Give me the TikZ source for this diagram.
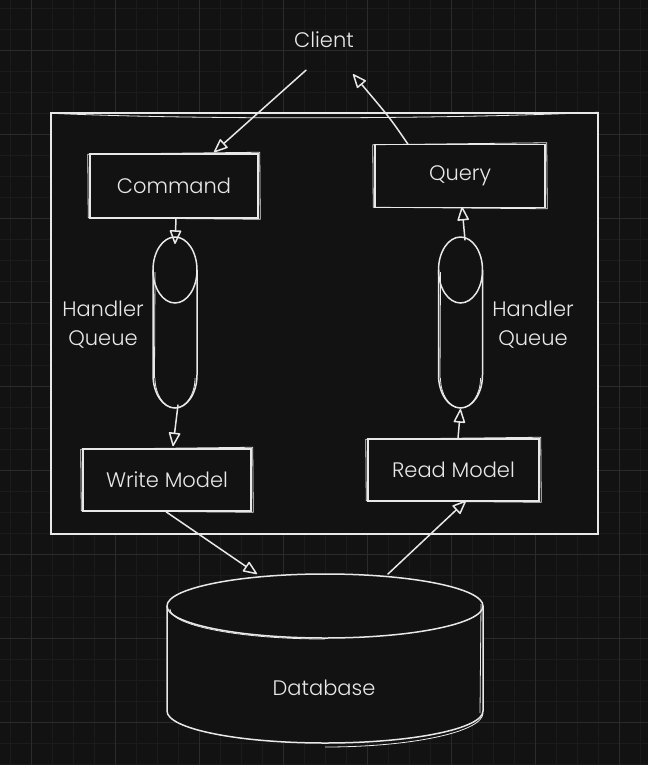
\documentclass[tikz,border=0pt]{standalone}
\usepackage{fontspec}
\setmainfont{Poppins}[UprightFont=* Light]
\usetikzlibrary{arrows.meta,calc}
\definecolor{bg}{HTML}{121212}
\definecolor{gridminor}{HTML}{1B1B1B}
\definecolor{gridmajor}{HTML}{2B2B2B}
\definecolor{ink}{HTML}{E8E8E8}
\newcommand\skbox[1]{%
  \draw[skline] ($(#1.north west)+(-1.5,1)$) -- ($(#1.north east)+(1,-1)$)
    -- ($(#1.south east)+(1.5,0.5)$) -- ($(#1.south west)+(-1,-1)$) -- cycle;}
\begin{document}
\begin{tikzpicture}[x=1pt,y=-1pt,
  box/.style={draw=ink, fill=bg, line width=1.5pt, inner sep=0pt, text=ink,
    font=\fontsize{21}{24}\selectfont},
  lbl/.style={text=ink, font=\fontsize{21}{29}\selectfont, align=center, inner sep=0pt},
  ghost/.style={inner sep=0pt, outer sep=0pt},
  skline/.style={draw=ink, line width=0.8pt, line join=round},
  cyl/.style={draw=ink, fill=bg, line width=1.5pt, line join=round},
  arr/.style={draw=ink, line width=1.5pt, line cap=round,
    -{Triangle[open, length=15pt, width=12pt, round]}},
]
% background and grid
\fill[bg] (0,0) rectangle (648,765);
\useasboundingbox (0,0) rectangle (648,765);
\foreach \x in {10,31,...,648} \draw[gridminor, line width=0.6pt] (\x,0) -- (\x,765);
\foreach \y in {8,29,...,765} \draw[gridminor, line width=0.6pt] (0,\y) -- (648,\y);
\foreach \x in {31,115,...,648} \draw[gridmajor, line width=0.8pt] (\x,0) -- (\x,765);
\foreach \y in {50,134,...,765} \draw[gridmajor, line width=0.8pt] (0,\y) -- (648,\y);

% outer frame
\node[draw=ink, fill=bg, line width=1.5pt, minimum width=547pt, minimum height=421pt, inner sep=0pt]
  (frame) at (324.5,323.5) {};
\draw[skline] ($(frame.north west)+(0,1)$) .. controls (200,120) and (450,119) .. ($(frame.north east)+(0,0)$);

% boxes
\node[box, minimum width=168pt, minimum height=64pt] (cmd) at (174,186) {Command};
\node[box, minimum width=170pt, minimum height=63pt] (query) at (460,176) {\raisebox{-3pt}{Query}};
\node[box, minimum width=168pt, minimum height=62pt] (write) at (167,480) {Write Model};
\node[box, minimum width=171pt, minimum height=62pt] (read) at (453.5,470) {Read Model};
\skbox{cmd}\skbox{query}\skbox{write}\skbox{read}

% handler queues (vertical cylinders)
\foreach \cx/\nm in {175/hq1, 460.5/hq2}{
  \path[cyl] (\cx-22,270) -- (\cx-22,375)
    arc[start angle=180, end angle=0, x radius=22, y radius=33]
    -- (\cx+22,270)
    arc[start angle=0, end angle=-180, x radius=22, y radius=33] -- cycle;
  \draw[ink, line width=1.5pt] (\cx-22,270) arc[start angle=180, end angle=0, x radius=22, y radius=33];
  \draw[skline] (\cx-20,272) -- (\cx-20.5,378);
  \draw[skline] (\cx+20,378) arc[start angle=0, end angle=180, x radius=20, y radius=30];
  \node[ghost, minimum width=44pt, minimum height=171pt] (\nm) at (\cx,322.5) {};
}

% database cylinder
\path[cyl] (167,606) -- (167,711)
  arc[start angle=180, end angle=0, x radius=158, y radius=32]
  -- (483,606)
  arc[start angle=0, end angle=-180, x radius=158, y radius=32] -- cycle;
\draw[ink, line width=1.5pt] (167,606) arc[start angle=180, end angle=0, x radius=158, y radius=32];
\draw[skline] (170,609) arc[start angle=180, end angle=90, x radius=155, y radius=30];
\draw[skline] (481,604) -- (480,713);
\draw[skline] (483,713) arc[start angle=0, end angle=90, x radius=158, y radius=34];
\node[ghost, minimum width=316pt, minimum height=169pt] (db) at (325,658.5) {};

% labels
\node[lbl] (client) at (324,40) {Client};
\node[lbl] (hql) at (103,325) {Handler\\Queue};
\node[lbl] (hqr) at (533,325) {Handler\\Queue};
\node[lbl] (dblabel) at (324,688) {Database};

% connectors
\draw[arr] ($(client.south)+(-18,22)$) -- ($(cmd.north)+(40,-1)$);
\draw[arr] ($(query.north)+(-52,0.5)$) .. controls (390,118) .. ($(client.south)+(29,26)$);
\draw[arr] ($(cmd.south)+(2,0)$) -- ($(hq1.north)+(0,7)$);
\draw[arr] ($(hq1.south)+(3,-3)$) -- ($(write.north)+(6,-2)$);
\draw[arr] ($(read.north)+(4.5,0)$) -- ($(hq2.south)+(0,1)$);
\draw[arr] ($(hq2.north)+(4.5,3)$) -- ($(query.south)+(2,-1.5)$);
\draw[arr] ($(write.south)+(-1,0)$) -- ($(db.north)+(-68,0)$);
\draw[arr] ($(db.north)+(63,0)$) -- ($(read.south)+(12.5,-1)$);
\end{tikzpicture}
\end{document}
